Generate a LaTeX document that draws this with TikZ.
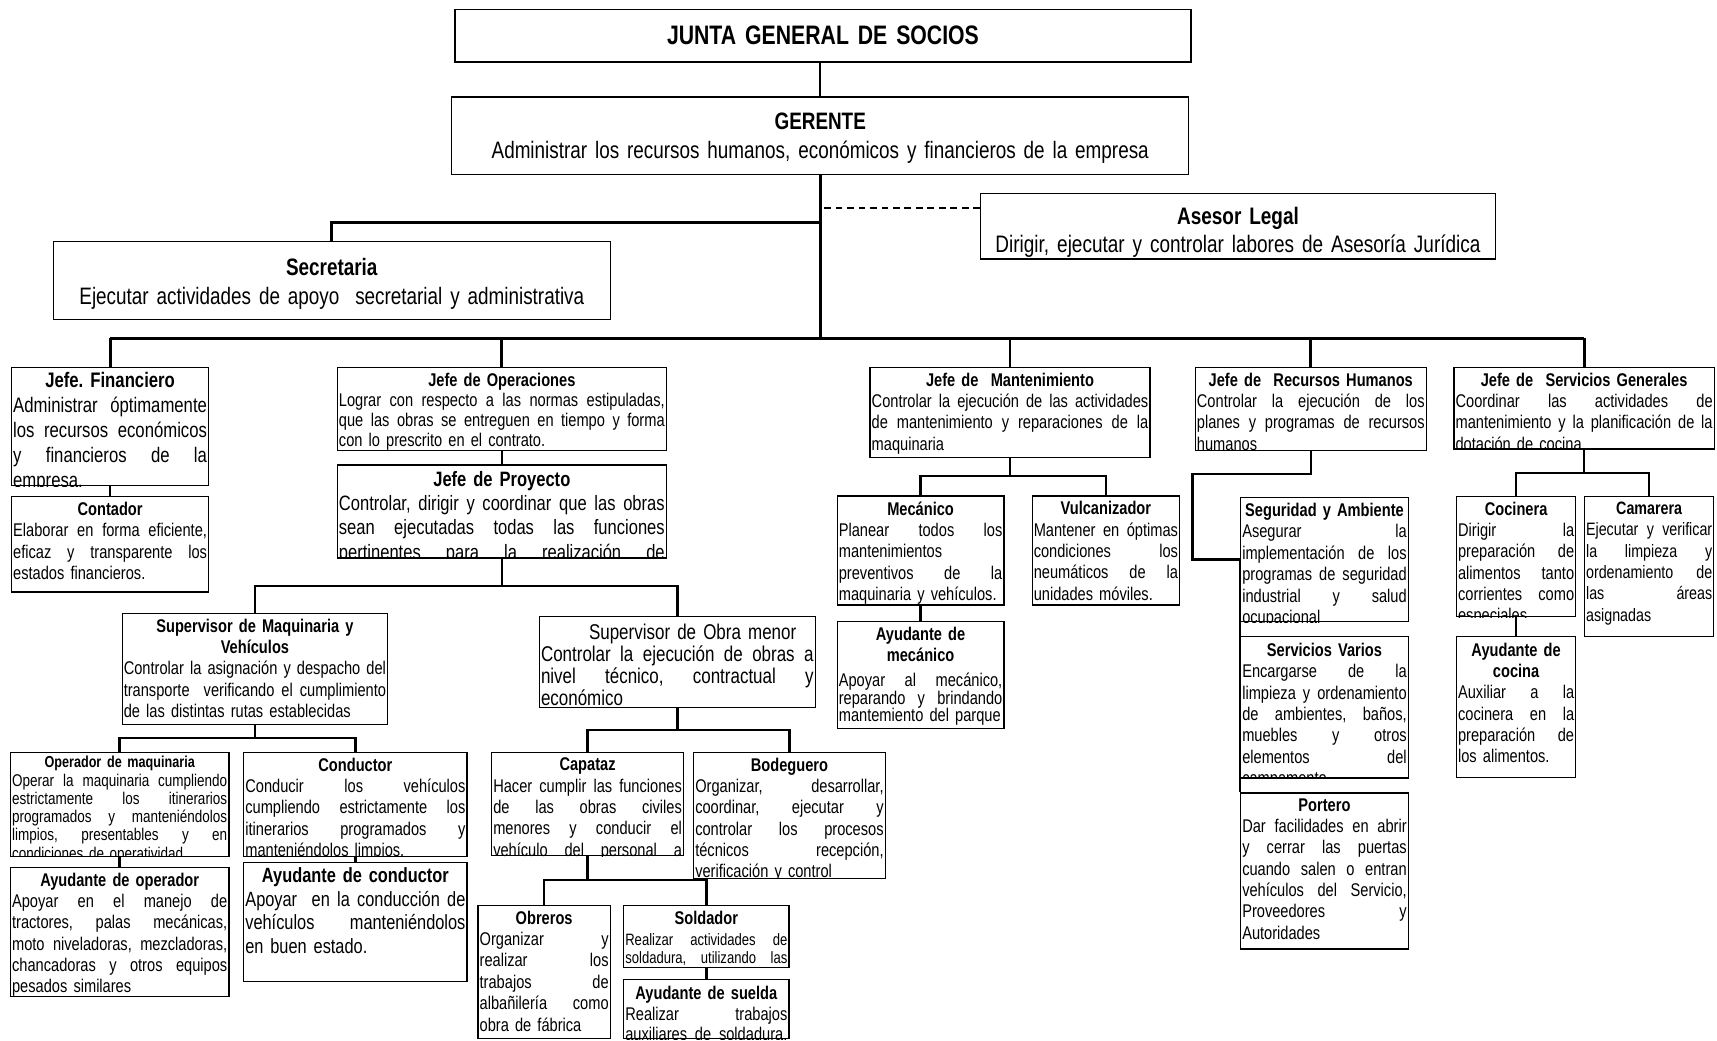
\documentclass[tikz,border=0pt]{standalone}
\usepackage{fontspec}
\setmainfont{Liberation Sans}[FakeStretch=0.795]
\usetikzlibrary{calc}
\frenchspacing
\hyphenpenalty=10000
\exhyphenpenalty=10000

\newlength{\px}
\setlength{\px}{0.025cm}
\newcommand{\fs}[2]{\fontsize{#1\px}{#2\px}\selectfont}
% lineas de texto: justificada, ultima justificada, titulo centrado
\newcommand{\jl}[1]{\makebox[\linewidth][s]{\spaceskip=\fontdimen2\font plus 1fil\relax #1}\\}
\newcommand{\ju}[1]{\makebox[\linewidth][s]{\spaceskip=\fontdimen2\font plus 1fil\relax #1}}
\newcommand{\tl}[2][0pt]{\makebox[\linewidth]{\bfseries #2}\\[#1]}
% caja: [opciones texto]{nombre}{x,y arriba izq.}{ancho}{alto}{texto}
\newcommand{\caja}[6][]{%
  \node[caja, minimum width=#4\px, minimum height=#5\px, anchor=north west] (#2) at (#3) {};
  \pgfmathsetlengthmacro{\anchotexto}{(#4-3)*\px}%
  \begin{scope}
    \clip (#2.south west) rectangle (#2.north east);
    \node[texto, text width=\anchotexto, #1] (#2-t) at (#2.north) {#6};
  \end{scope}}

\begin{document}
\begin{tikzpicture}[x=\px,y=-\px,
    caja/.style={draw,line width=1.1\px,inner sep=0pt},
    texto/.style={anchor=north,inner xsep=1.5\px,inner ysep=5.3\px,font=\fs{16.8}{19.5}},
    enlace/.style={line width=1.4\px},
    tronco/.style={line width=2.6\px},
    rama/.style={line width=2.2\px},
    discont/.style={line width=1.8\px,dash pattern=on 6\px off 4.5\px}]
  \fill[white] (0,0) rectangle (1568,950);
  \useasboundingbox (0,0) rectangle (1568,950);

  % direccion
  \caja[align=center,font=\fs{24.4}{28}\bfseries,inner ysep=15.2\px]{junta}{415,8}{672}{48}{JUNTA GENERAL DE SOCIOS}
  \caja[align=center,font=\fs{21.7}{26},inner ysep=14.9\px]{gerente}{412,88}{673}{71}{\textbf{GERENTE}\\Administrar los recursos humanos, económicos y financieros de la empresa}
  \caja[align=center,font=\fs{21.8}{25},inner ysep=13.1\px]{asesor}{895,176}{470}{60}{\textbf{Asesor Legal}\\Dirigir, ejecutar y controlar labores de Asesoría Jurídica}
  \caja[align=center,font=\fs{21.7}{26},inner ysep=15.7\px]{secretaria}{48,220}{509}{71}{\textbf{Secretaria}\\Ejecutar actividades de apoyo~ secretarial y administrativa}

  % finanzas
  \caja[font=\fs{19.2}{22.8},inner ysep=5\px]{jfin}{10,335}{180}{108}{\tl{Jefe. Financiero}\jl{Administrar óptimamente}\jl{los recursos económicos}\jl{y financieros de la}empresa.}
  \caja{contador}{10,453}{180}{87}{\tl{Contador}\jl{Elaborar en forma eficiente,}\jl{eficaz y transparente los}estados financieros.}

  % operaciones
  \caja[font=\fs{16.8}{18.3}]{jope}{307.5,335}{300.5}{76}{\tl{Jefe de Operaciones}\jl{Lograr con respecto a las normas estipuladas,}\jl{que las obras se entreguen en tiempo y forma}con lo prescrito en el contrato.}
  \caja[font=\fs{19}{22.3},inner ysep=5.8\px]{jproy}{307.5,424}{300.5}{85}{\tl{Jefe de Proyecto}\jl{Controlar, dirigir y coordinar que las obras}\jl{sean ejecutadas todas las funciones}\ju{pertinentes para la realización de}}
  \caja{supmaq}{111,559.5}{242.5}{101.5}{\tl{Supervisor de Maquinaria y}\tl{Vehículos}\jl{Controlar la asignación y despacho del}\jl{transporte~ verificando el cumplimiento}de las distintas rutas establecidas}
  \caja[font=\fs{19.5}{20},inner ysep=7.1\px]{supobra}{492,562.6}{252}{83}{\makebox[\linewidth]{\hspace{28\px}Supervisor de Obra menor}\\\jl{Controlar la ejecución de obras a}\jl{nivel técnico, contractual y}económico}
  \caja[font=\fs{15.5}{16.7},inner ysep=3.9\px]{operador}{9,686.5}{199.5}{95}{\makebox[\linewidth]{\bfseries\fs{14.5}{16.7}Operador de maquinaria}\\\jl{Operar la maquinaria cumpliendo}\jl{estrictamente los itinerarios}\jl{programados y manteniéndolos}\jl{limpios, presentables y en}condiciones de operatividad}
  \caja{ayuop}{9,791.5}{199.5}{118}{\tl{Ayudante de operador}\jl{Apoyar en el manejo de}\jl{tractores, palas mecánicas,}\jl{moto niveladoras, mezcladoras,}\jl{chancadoras y otros equipos}pesados similares}
  \caja{conductor}{222,686.5}{204}{95}{\tl{Conductor}\jl{Conducir los vehículos}\jl{cumpliendo estrictamente los}\jl{itinerarios programados y}manteniéndolos limpios.}
  \caja[font=\fs{18.8}{21.6},inner ysep=5\px]{ayucond}{222,787}{204}{108.6}{\tl{Ayudante de conductor}\jl{Apoyar~ en la conducción de}\jl{vehículos manteniéndolos}en buen estado.}
  \caja{capataz}{448.4,686.5}{175.3}{94.3}{\tl{Capataz}\jl{Hacer cumplir las funciones}\jl{de las obras civiles}\jl{menores y conducir el}\ju{vehículo del personal a}}
  \caja{bodeguero}{632.9,686.5}{175}{115}{\tl{Bodeguero}\jl{Organizar, desarrollar,}\jl{coordinar, ejecutar y}\jl{controlar los procesos}\jl{técnicos recepción,}verificación y control}
  \caja[inner ysep=5.6\px]{obreros}{436,826}{120.8}{122}{\tl{Obreros}\jl{Organizar y}\jl{realizar los}\jl{trabajos de}\jl{albañilería como}obra de fábrica}
  \caja[font=\fs{15}{16.4},inner ysep=5.6\px]{soldador}{569,826}{151}{57}{\makebox[\linewidth]{\bfseries\fs{16.8}{19}Soldador}\\[3\px]\jl{Realizar actividades de}\ju{soldadura, utilizando las}}
  \caja[font=\fs{16.8}{18.5},inner ysep=7\px]{ayusuelda}{569,893.7}{151}{54.3}{\tl{Ayudante de suelda}\jl{Realizar trabajos}\ju{auxiliares de soldadura,}}

  % mantenimiento
  \caja{jmant}{794,335}{255.6}{82}{\tl{Jefe de~ Mantenimiento}\jl{Controlar la ejecución de las actividades}\jl{de mantenimiento y reparaciones de la}maquinaria}
  \caja{mecanico}{764,452.4}{152.3}{99.5}{\tl{Mecánico}\jl{Planear todos los}mantenimientos\\\jl{preventivos de la}maquinaria y vehículos.}
  \caja{vulcan}{942,452.4}{134.7}{99.5}{\tl{Vulcanizador}\jl{Mantener en óptimas}\jl{condiciones los}\jl{neumáticos de la}unidades móviles.}
  \caja[font=\fs{16.8}{16}]{ayumec}{764,566.8}{152.3}{98.2}{\tl[3.2\px]{Ayudante de}\tl[7.4\px]{mecánico}\jl{Apoyar al mecánico,}\jl{reparando y brindando}\makebox[\linewidth][l]{mantemiento del parque}}

  % recursos humanos
  \caja{jrrhh}{1091,335}{211}{76}{\tl{Jefe de~ Recursos Humanos}\jl{Controlar la ejecución de los}\jl{planes y programas de recursos}humanos}
  \caja{seguridad}{1132.4,454}{153.2}{113}{\tl{Seguridad y Ambiente}\jl{Asegurar la}\jl{implementación de los}\jl{programas de seguridad}\jl{industrial y salud}ocupacional}
  \caja[inner ysep=5.9\px]{servicios}{1132.4,581}{153.2}{129}{\tl{Servicios Varios}\jl{Encargarse de la}\jl{limpieza y ordenamiento}\jl{de ambientes, baños,}\jl{muebles y otros}\jl{elementos del}campamento}
  \caja{portero}{1132.4,723.6}{153.2}{142.4}{\tl{Portero}\jl{Dar facilidades en abrir}\jl{y cerrar las puertas}\jl{cuando salen o entran}\jl{vehículos del Servicio,}\jl{Proveedores y}Autoridades}

  % servicios generales
  \caja{jsg}{1327.2,335}{237.8}{74.4}{\tl{Jefe de~ Servicios Generales}\jl{Coordinar las actividades de}\jl{mantenimiento y la planificación de la}dotación de cocina.}
  \caja{cocinera}{1329.5,452.7}{109}{110}{\tl{Cocinera}\jl{Dirigir la}\jl{preparación de}\jl{alimentos tanto}\jl{corrientes como}especiales}
  \caja[font=\fs{16.4}{19.5}]{camarera}{1446.4,452.7}{118.2}{128}{\tl{Camarera}\jl{Ejecutar y verificar}\jl{la limpieza y}\jl{ordenamiento de}\jl{las áreas}asignadas}
  \caja[inner ysep=6\px]{ayucocina}{1329.5,580.8}{109}{129}{\tl{Ayudante de}\tl{cocina}\jl{Auxiliar a la}\jl{cocinera en la}\jl{preparación de}los alimentos.}

  % conectores
  \coordinate (bus) at (0,309);
  \coordinate (sec) at (0,203.4);
  \coordinate (ase) at (0,189.7);
  \draw[enlace] (gerente.north) -- (gerente.north |- junta.south);
  \draw[tronco] (gerente.south) -- (gerente.south |- bus);
  \draw[tronco] (secretaria.north) |- (sec -| gerente.south);
  \draw[discont] (asesor.west |- ase) -- (gerente.south |- ase);
  \draw[tronco] (jfin.north |- bus) -- (jsg.north |- bus);
  \foreach \j in {jfin,jope,jmant,jrrhh,jsg}
    \draw[tronco] (\j.north) -- (\j.north |- bus);

  \coordinate (bp) at (0,535);
  \coordinate (bm) at (0,674);
  \coordinate (bo) at (0,666.7);
  \coordinate (bc) at (0,803.6);
  \coordinate (bk) at (0,434.7);
  \coordinate (bs) at (0,432);
  \coordinate (rh) at (1089,432.6);

  \draw[rama] (jproy.south) -- (jproy.south |- bp);
  \draw[rama] (supmaq.north) |- (bp -| supobra.north) -- (supobra.north);
  \draw[rama] (supmaq.south) -- (supmaq.south |- bm);
  \draw[rama] (operador.north) |- (bm -| conductor.north) -- (conductor.north);
  \draw[rama] (supobra.south) -- (supobra.south |- bo);
  \draw[rama] (capataz.north) |- (bo -| bodeguero.north) -- (bodeguero.north);
  \draw[rama] (capataz.south) -- (capataz.south |- bc);
  \draw[rama] (obreros.north) |- (bc -| soldador.north) -- (soldador.north);
  \draw[rama] (jmant.south) -- (jmant.south |- bk);
  \draw[rama] (mecanico.north) |- (bk -| vulcan.north) -- (vulcan.north);
  \draw[rama] (jsg.south) -- (jsg.south |- bs);
  \draw[rama] (cocinera.north) |- (bs -| camarera.north) -- (camarera.north);
  \draw[rama] (jrrhh.south) |- (rh) |- (seguridad.west);
  \draw[rama] (seguridad.west) -- (portero.north west);

  \foreach \a/\b in {jfin/contador,jope/jproy,operador/ayuop,conductor/ayucond,soldador/ayusuelda,mecanico/ayumec,cocinera/ayucocina}
    \draw[rama] (\a.south) -- (\b.north);
\end{tikzpicture}
\end{document}
